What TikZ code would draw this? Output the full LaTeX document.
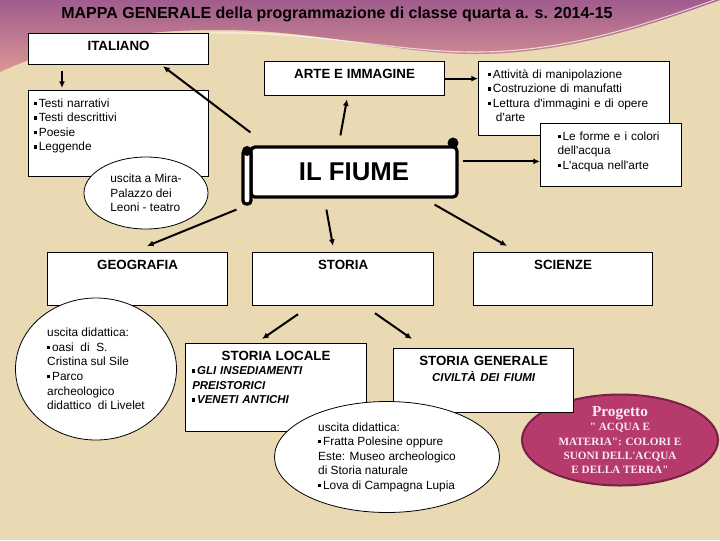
\documentclass[tikz,border=0pt]{standalone}
\usepackage{fontspec}
\setmainfont{Liberation Sans}[Ligatures=TeXOff]
\newfontfamily\progfont{Liberation Serif}[Ligatures=TeXOff]
\usetikzlibrary{shapes.geometric,arrows.meta,calc}

\definecolor{parchment}{RGB}{234,218,180}
\definecolor{bandtop}{RGB}{160,92,142}
\definecolor{bandbot}{RGB}{218,150,146}
\definecolor{raspberry}{RGB}{182,58,108}
\definecolor{raspdark}{RGB}{120,34,70}
\definecolor{pinktext}{RGB}{250,234,242}

\newcommand{\sqb}{\raisebox{1.7pt}{\rule{2.4pt}{2.4pt}}\hspace{1.3pt}}

\tikzset{
  title/.style={font=\fontsize{12}{14}\selectfont\bfseries},
  box/.style={draw, fill=white, line width=0.9pt, anchor=north west, inner xsep=4pt, inner ysep=5.5pt, text height=7pt, font=\fontsize{10}{12}\selectfont\bfseries},
  list/.style={box, align=left, font=\fontsize{8.9}{10.9}\selectfont},
  cloud/.style={draw, fill=white, ellipse, line width=0.6pt, inner sep=0pt, align=left, font=\fontsize{8.9}{10.9}\selectfont},
  scroll/.style={draw, fill=white, line width=2.4pt, rounded corners=3pt, inner sep=0pt, minimum width=154.5pt, minimum height=37.5pt, font=\fontsize{19.3}{22}\selectfont\bfseries},
  arr/.style={-{Latex[length=5pt,width=4.5pt]}, line width=1.5pt},
}

\begin{document}
\begin{tikzpicture}[x=0.75pt,y=0.75pt,yscale=-1,xscale=1]
\useasboundingbox (0,0) rectangle (720,540);

%Background
\fill[parchment] (0,0) rectangle (720,540);
%Wave band
\shade[top color=bandtop, bottom color=bandbot] (0,0) -- (0,72) .. controls (60,45) and (120,30) .. (220,30) .. controls (320,30) and (400,55) .. (480,54) .. controls (570,53) and (650,25) .. (720,0) -- cycle;
\draw[white, opacity=0.7, line width=0.8pt] (210,33) .. controls (320,31) and (400,53) .. (480,52) .. controls (570,51) and (650,23) .. (720,-2);

% Text Node
\node[title] (ttl) at (337,14) {MAPPA GENERALE della programmazione di classe quarta a. s. 2014-15};

%Ellipse: progetto
\node[cloud, fill=raspberry, draw=raspdark, line width=1.5pt, text=pinktext, align=center, inner ysep=-6pt, minimum width=147pt, minimum height=68.25pt, font=\progfont\bfseries\fontsize{8.4}{10.7}\selectfont] (prog) at (620,440) {{\fontsize{11.5}{12}\selectfont Progetto}\\" ACQUA E\\MATERIA": COLORI E\\SUONI DELL'ACQUA\\E DELLA TERRA"};

%Boxes
\node[box, minimum width=135pt, text depth=5.25pt] (ita) at (28,33) {ITALIANO};
\node[list, text width=127pt, text depth=46.5pt] (testi) at (28,90) {\sqb Testi narrativi\\\sqb Testi descrittivi\\\sqb Poesie\\\sqb Leggende};
\node[box, minimum width=135pt, text depth=7.5pt] (arte) at (264,61) {ARTE E IMMAGINE};
\node[list, inner xsep=7pt, text width=129.25pt, text depth=37.5pt] (attiv) at (478,61) {\sqb Attività di manipolazione\\\sqb Costruzione di manufatti\\\sqb Lettura d'immagini e di opere\\\hspace*{6pt}d'arte};
\node[list, inner xsep=12.75pt, text width=80.25pt, text depth=29.25pt] (forme) at (540,123) {\sqb Le forme e i colori\\dell'acqua\\\sqb L'acqua nell'arte};

\node[box, minimum width=135pt, text depth=21.75pt] (geo) at (47,252) {GEOGRAFIA};
\node[box, minimum width=135.75pt, text depth=21.75pt] (storia) at (252,252) {STORIA};
\node[box, minimum width=134.25pt, text depth=21.75pt] (sci) at (473,252) {SCIENZE};

\node[list, inner xsep=5pt, text width=125.75pt, text depth=48pt, font=\fontsize{8.6}{10.9}\selectfont\bfseries\itshape] (loc) at (185,343) {\makebox[\linewidth]{\upshape\fontsize{10}{12}\selectfont STORIA LOCALE}\\\sqb GLI INSEDIAMENTI\\PREISTORICI\\\sqb VENETI ANTICHI};
\node[box, align=center, text width=127pt, text depth=30pt] (gen) at (393,348) {STORIA GENERALE\\{\itshape\fontsize{8.6}{10.9}\selectfont CIVILTÀ DEI FIUMI}};

%Scroll
\node[scroll] (fiume) at (354,172) {IL FIUME};
\draw[line width=2.4pt, fill=white, rounded corners=2.5pt] (243,150) rectangle (251,204);
\fill (247,151) circle (5);
\fill (453,143) circle (5.5);

%Ellipses
\node[cloud, minimum width=93pt, minimum height=54pt] (mira) at (146,193) {uscita a Mira-\\Palazzo dei\\Leoni - teatro};
\node[cloud, minimum width=120.75pt, minimum height=106.5pt] (geoell) at (96,369) {uscita didattica:\\\sqb oasi\ \ di\ \ S.\\Cristina sul Sile\\\sqb Parco\\archeologico\\didattico\ \ di Livelet};
\node[cloud, minimum width=168.75pt, minimum height=83.25pt] (usc) at (387,457) {uscita didattica:\\\sqb Fratta Polesine oppure\\Este: Museo archeologico\\di Storia naturale\\\sqb Lova di Campagna Lupia};

%Straight Lines
\draw[arr] ($(ita.south west)+(34,6)$) -- ($(testi.north west)+(34,-2)$);
\draw[arr] ($(fiume.north west)+(1,-13)$) -- ($(ita.south west)+(135,1)$);
\draw[arr] ($(fiume.north west)+(91,-10)$) -- ($(arte.south west)+(83,3)$);
\draw[arr] (arte.east) -- (arte.east -| attiv.west);
\draw[arr] ($(fiume.north east)+(4,16)$) coordinate (fr) -- (fr -| forme.west);
\draw[arr] ($(fiume.south west)+(-13,11)$) -- ($(geo.north west)+(100,-6)$);
\draw[arr] ($(fiume.south west)+(77,11)$) -- ($(storia.north west)+(81,-6)$);
\draw[arr] ($(fiume.south east)+(-24,6)$) -- ($(sci.north west)+(34,-6)$);
\draw[arr] ($(storia.south west)+(46,8)$) -- ($(loc.north west)+(77,-4)$);
\draw[arr] ($(storia.south west)+(123,7)$) -- ($(gen.north west)+(19,-9)$);

\end{tikzpicture}
\end{document}
